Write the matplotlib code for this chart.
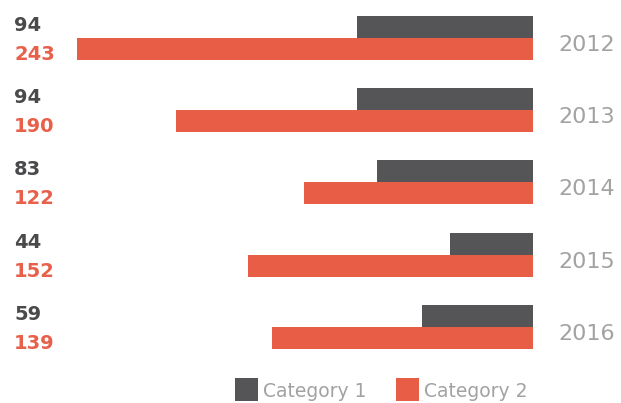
import matplotlib
matplotlib.use("Agg")
import matplotlib.pyplot as plt
import matplotlib.transforms as mtransforms
from matplotlib.patches import Rectangle

# ---------- data ----------
years = ["2012", "2013", "2014", "2015", "2016"]
cat1 = [94, 94, 83, 44, 59]
cat2 = [243, 190, 122, 152, 139]
series_names = ["Category 1", "Category 2"]

# ---------- style ----------
c1_bar = "#555557"
c2_bar = "#e85d45"
c1_txt = "#4a4a4c"
c2_txt = "#e8604a"
grey_txt = "#a2a2a2"
plt.rcParams["font.family"] = "DejaVu Sans"

W, H = 621, 403
fig = plt.figure(figsize=(W / 100, H / 100), dpi=100)
fig.patch.set_facecolor("white")

# axes spans bar area; bars grow leftwards from the right edge
ax = fig.add_axes([77 / W, 0, 456 / W, 1])
ax.set_xlim(max(cat2), 0)
step = 72.2  # px between groups
top = 38     # px of first group centre
ax.set_ylim((H - top) / step, -top / step)
ax.axis("off")

h = 22 / step
y = list(range(len(years)))
ax.barh([i - h / 2 for i in y], cat1, height=h, left=0, color=c1_bar, linewidth=0)
ax.barh([i + h / 2 for i in y], cat2, height=h, left=0, color=c2_bar, linewidth=0)

# ---------- labels ----------
tr = mtransforms.blended_transform_factory(fig.transFigure, ax.transData)
for i, (a, b, yr) in enumerate(zip(cat1, cat2, years)):
    ax.text(14 / W, i - 7 / step, f"{a}", transform=tr, ha="left", va="baseline",
            fontsize=14, fontweight="bold", color=c1_txt)
    ax.text(14 / W, i + 22 / step, f"{b}", transform=tr, ha="left", va="baseline",
            fontsize=14, fontweight="bold", color=c2_txt)
    ax.text(558 / W, i + 13 / step, yr, transform=tr, ha="left", va="baseline",
            fontsize=16, color=grey_txt)

# ---------- legend ----------
for x0, col, name in [(235, c1_bar, series_names[0]), (396, c2_bar, series_names[1])]:
    fig.patches.append(Rectangle((x0 / W, 2 / H), 23 / W, 23 / H,
                                 transform=fig.transFigure, color=col, linewidth=0))
    fig.text((x0 + 28) / W, 6 / H, name, ha="left", va="baseline",
             fontsize=13.5, color=grey_txt)

fig.savefig("out.png", dpi=100)
